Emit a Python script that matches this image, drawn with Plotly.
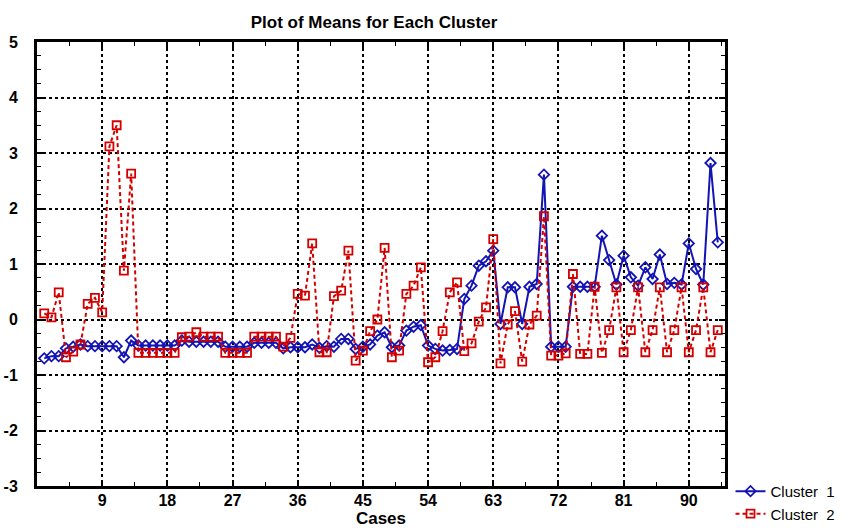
import plotly.graph_objects as go

cases = list(range(1, 95))

cluster1 = [
    -0.70, -0.66, -0.66, -0.52, -0.49, -0.45, -0.48, -0.48, -0.48, -0.48,
    -0.48, -0.68, -0.38, -0.47, -0.47, -0.47, -0.47, -0.47, -0.47, -0.38,
    -0.40, -0.40, -0.40, -0.40, -0.40, -0.49, -0.49, -0.49, -0.49, -0.42,
    -0.42, -0.42, -0.42, -0.52, -0.50, -0.50, -0.50, -0.45, -0.51, -0.48,
    -0.49, -0.35, -0.35, -0.53, -0.49, -0.45, -0.29, -0.23, -0.50, -0.47,
    -0.20, -0.13, -0.10, -0.47, -0.53, -0.56, -0.55, -0.53, 0.37, 0.61,
    0.97, 1.05, 1.24, -0.08, 0.58, 0.58, -0.08, 0.59, 0.64, 2.61,
    -0.49, -0.49, -0.49, 0.59, 0.59, 0.59, 0.59, 1.51, 1.07, 0.63,
    1.15, 0.76, 0.61, 0.94, 0.73, 1.17, 0.64, 0.66, 0.63, 1.37,
    0.91, 0.63, 2.82, 1.39,
]

cluster2 = [
    0.11, 0.04, 0.49, -0.68, -0.58, -0.45, 0.28, 0.39, 0.13, 3.12,
    3.50, 0.88, 2.63, -0.60, -0.60, -0.60, -0.60, -0.60, -0.60, -0.32,
    -0.31, -0.23, -0.31, -0.31, -0.31, -0.60, -0.60, -0.60, -0.60, -0.31,
    -0.31, -0.31, -0.31, -0.49, -0.33, 0.46, 0.43, 1.37, -0.59, -0.59,
    0.42, 0.52, 1.24, -0.74, -0.56, -0.21, 0.00, 1.29, -0.68, -0.56,
    0.46, 0.61, 0.94, -0.77, -0.68, -0.21, 0.49, 0.67, -0.57, -0.43,
    -0.04, 0.22, 1.45, -0.79, -0.09, 0.15, -0.76, -0.09, 0.07, 1.86,
    -0.65, -0.65, -0.61, 0.82, -0.62, -0.62, 0.59, -0.60, -0.19, 0.58,
    -0.59, -0.19, 0.58, -0.59, -0.19, 0.58, -0.59, -0.19, 0.58, -0.59,
    -0.19, 0.58, -0.59, -0.19,
]

x_ticks = [9, 18, 27, 36, 45, 54, 63, 72, 81, 90]
y_ticks = [-3, -2, -1, 0, 1, 2, 3, 4, 5]
y_ticktext = ["-3", "-2", "-1", "0", "1", "2", "3", "4", "5"]

FONT = "Liberation Sans, Arial, sans-serif"
BLUE = "#1414b4"
RED = "#d40000"

fig = go.Figure()
fig.add_trace(go.Scatter(
    x=cases, y=cluster1, name="Cluster  1", mode="lines+markers",
    line=dict(color=BLUE, width=2),
    marker=dict(symbol="diamond-open", size=8, color=BLUE, line=dict(width=1.8)),
))
fig.add_trace(go.Scatter(
    x=cases, y=cluster2, name="Cluster  2", mode="lines+markers",
    line=dict(color=RED, width=2, dash="4px,3px"),
    marker=dict(symbol="square-open", size=8, color=RED, line=dict(width=1.8)),
))

axis_common = dict(
    showline=True, linewidth=3, linecolor="black", mirror="ticks",
    ticks="inside", ticklen=6, tickwidth=1.5, tickcolor="black",
    showgrid=True, gridcolor="black", gridwidth=1.5, griddash="dot",
    zeroline=False, automargin=False,
    tickfont=dict(family=FONT, size=16, color="black", weight="bold"),
)

fig.update_xaxes(
    range=[0, 95], tickmode="array", tickvals=x_ticks,
    ticklabelstandoff=-2,
    minor=dict(dtick=4.5, tick0=0, ticks="inside", ticklen=4, tickwidth=1.2,
               tickcolor="black", showgrid=False),
    title=dict(text="Cases", font=dict(family=FONT, size=17, color="black", weight="bold"),
               standoff=2),
    **axis_common,
)
fig.update_yaxes(
    range=[-3, 5], tickmode="array", tickvals=y_ticks, ticktext=y_ticktext,
    ticklabelstandoff=13,
    minor=dict(dtick=0.25, tick0=0, ticks="inside", ticklen=4, tickwidth=1.2,
               tickcolor="black", showgrid=False),
    **axis_common,
)

fig.update_layout(
    width=850, height=532,
    margin=dict(l=37, r=125, t=42, b=46, autoexpand=False),
    paper_bgcolor="white", plot_bgcolor="white",
    title=dict(text="Plot of Means for Each Cluster", x=374 / 850, xanchor="center",
               y=1 - 22 / 532, yanchor="middle",
               font=dict(family=FONT, size=17, color="black", weight="bold")),
    legend=dict(x=1.008, xanchor="left", y=0.025, yanchor="top",
                font=dict(family=FONT, size=15, color="black"),
                bgcolor="rgba(0,0,0,0)", itemwidth=30, tracegroupgap=0),
    showlegend=True,
)

fig.write_html("out.html")
